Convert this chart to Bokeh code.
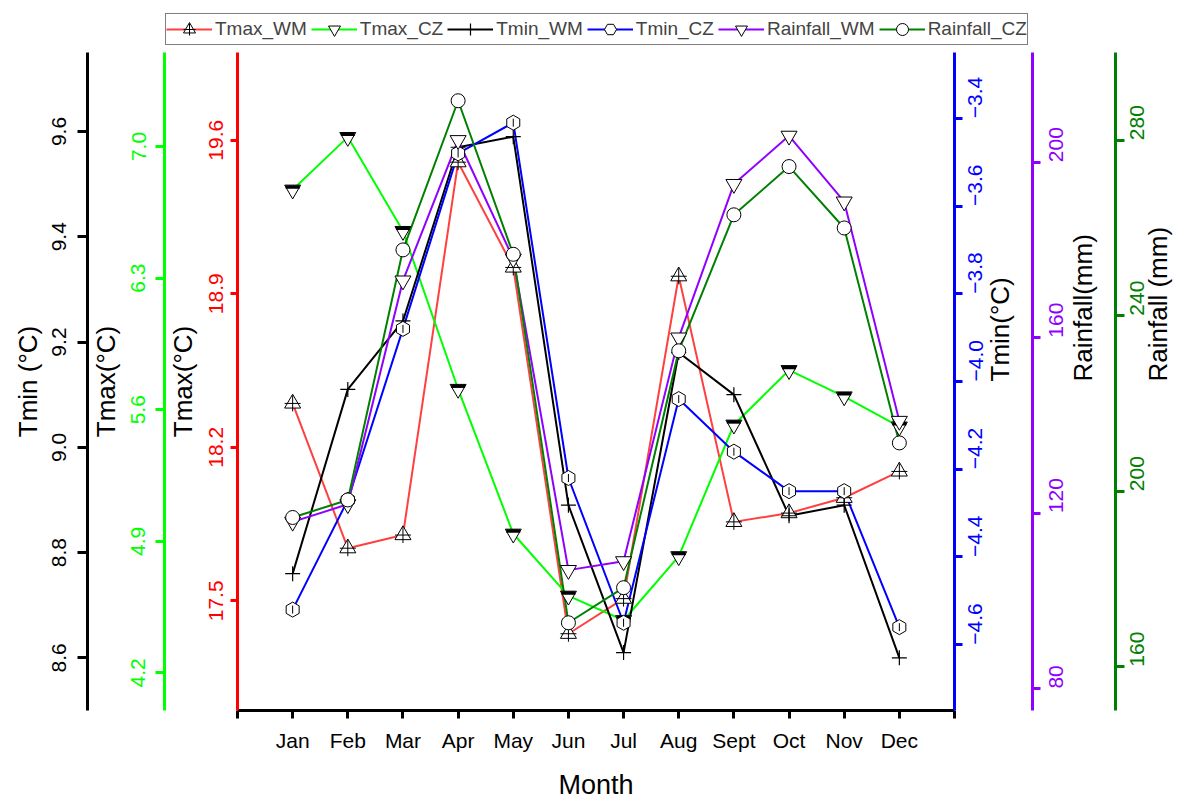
import math

from bokeh.embed import file_html
from bokeh.layouts import column
from bokeh.models import FixedTicker, Legend, LegendItem, LinearAxis, Range1d
from bokeh.plotting import figure
from bokeh.resources import INLINE

# Monthly climate series: two stations (WM, CZ)
months = ["Jan", "Feb", "Mar", "Apr", "May", "Jun", "Jul", "Aug", "Sept", "Oct", "Nov", "Dec"]
month_pos = list(range(1, 13))

tmax_wm = [18.40, 17.74, 17.80, 19.50, 19.02, 17.35, 17.51, 18.98, 17.86, 17.90, 17.97, 18.09]
tmax_cz = [6.77, 7.05, 6.55, 5.71, 4.94, 4.61, 4.48, 4.82, 5.52, 5.81, 5.67, 5.51]
tmin_wm = [8.76, 9.11, 9.24, 9.57, 9.59, 8.89, 8.61, 9.18, 9.10, 8.87, 8.89, 8.60]
tmin_cz = [-4.52, -4.27, -3.88, -3.48, -3.41, -4.22, -4.55, -4.04, -4.16, -4.25, -4.25, -4.56]
rain_wm = [118, 122, 173, 205, 178, 107, 109, 160, 195, 206, 191, 141]
rain_cz = [194, 198, 255, 289, 254, 170, 178, 232, 263, 274, 260, 211]

series_names = ["Tmax_WM", "Tmax_CZ", "Tmin_WM", "Tmin_CZ", "Rainfall_WM", "Rainfall_CZ"]

tmax_wm_ticks = [17.5, 18.2, 18.9, 19.6]
tmax_cz_ticks = [4.2, 4.9, 5.6, 6.3, 7.0]
tmin_wm_ticks = [8.6, 8.8, 9.0, 9.2, 9.4, 9.6]
tmin_cz_ticks = [-4.6, -4.4, -4.2, -4.0, -3.8, -3.6, -3.4]
rain_wm_ticks = [80, 120, 160, 200]
rain_cz_ticks = [160, 200, 240, 280]

FONT = "Liberation Sans"
RED = "#FF0000"
RED_LINE = "#FF4040"
LIME = "#00FF00"
BLUE = "#0000FF"
PURPLE = "#8F00FF"
DKGREEN = "#008000"
LW = 2
MK = dict(fill_color="white", line_color="black", line_width=1)

# texts read bottom-to-top on both sides of the plot
UPWARD = math.pi / 2

p = figure(
    width=1190, height=750,
    x_range=Range1d(0, 13), y_range=Range1d(17.0, 20.0),
    output_backend="svg", toolbar_location=None,
    min_border_left=237, min_border_right=232,
    min_border_top=0, min_border_bottom=87,
)
p.frame_align = False
p.outline_line_color = None
p.xgrid.visible = False
p.ygrid.visible = False
p.background_fill_color = "white"
p.border_fill_color = "white"

# the filled cap of the half-filled triangles sits a few pixels above the marker centre
cap_shift = 0.015
p.extra_y_ranges = {
    "tmax_cz": Range1d(4.0, 7.5),
    "tmax_cz_cap": Range1d(4.0 - cap_shift, 7.5 - cap_shift),
    "tmin_wm": Range1d(8.5, 9.75),
    "tmin_cz": Range1d(-4.75, -3.25),
    "rain_wm": Range1d(75, 225),
    "rain_cz": Range1d(150, 300),
}


def fmt(v):
    if float(v).is_integer() and abs(v) >= 10:
        return str(int(v))
    return f"{v:.1f}".replace("-", "\u2212")


def style_y_axis(ax, color, label_color, ticks, title, tick_out, label_standoff, title_standoff,
                 label_orientation, title_orientation):
    ax.ticker = FixedTicker(ticks=ticks, minor_ticks=[])
    ax.major_label_overrides = {t: fmt(t) for t in ticks}
    ax.axis_line_color = color
    ax.axis_line_width = 3
    ax.major_tick_line_color = color
    ax.major_tick_line_width = 3
    ax.major_tick_in = 0
    ax.major_tick_out = tick_out
    ax.minor_tick_line_color = None
    ax.major_label_text_color = label_color
    ax.major_label_text_font = FONT
    ax.major_label_text_font_size = "21px"
    ax.major_label_orientation = label_orientation
    ax.major_label_standoff = label_standoff
    ax.axis_label = title
    ax.axis_label_text_font = FONT
    ax.axis_label_text_font_size = "26px"
    ax.axis_label_text_font_style = "normal"
    ax.axis_label_text_color = "black"
    ax.axis_label_standoff = title_standoff
    ax.axis_label_orientation = title_orientation


def spacer(range_name, width, side):
    ax = LinearAxis(y_range_name=range_name, ticker=FixedTicker(ticks=[], minor_ticks=[]))
    ax.axis_line_color = None
    ax.major_tick_line_color = None
    ax.minor_tick_line_color = None
    ax.major_tick_in = 0
    ax.major_tick_out = width
    ax.major_label_standoff = 0
    p.add_layout(ax, side)


# left side: Tmax WM (red), Tmax CZ (lime), Tmin WM (black)
style_y_axis(p.yaxis[0], RED, RED, tmax_wm_ticks, "Tmax(\u00b0C)", 7, 7, 9, "vertical", "parallel")
spacer("tmax_cz", 5, "left")
ax_tmax_cz = LinearAxis(y_range_name="tmax_cz")
style_y_axis(ax_tmax_cz, LIME, LIME, tmax_cz_ticks, "Tmax(\u00b0C)", 9, 10, 8, "vertical", "parallel")
p.add_layout(ax_tmax_cz, "left")
spacer("tmin_wm", 12, "left")
ax_tmin_wm = LinearAxis(y_range_name="tmin_wm")
style_y_axis(ax_tmin_wm, "black", "black", tmin_wm_ticks, "Tmin (\u00b0C)", 10, 11, 7, "vertical", "parallel")
p.add_layout(ax_tmin_wm, "left")

# right side: Tmin CZ (blue), Rainfall WM (purple), Rainfall CZ (dark green)
ax_tmin_cz = LinearAxis(y_range_name="tmin_cz")
style_y_axis(ax_tmin_cz, BLUE, BLUE, tmin_cz_ticks, "Tmin(\u00b0C)", 8, 13, 7, UPWARD, UPWARD)
p.add_layout(ax_tmin_cz, "right")
ax_rain_wm = LinearAxis(y_range_name="rain_wm")
style_y_axis(ax_rain_wm, PURPLE, PURPLE, rain_wm_ticks, "Rainfall(mm)", 8, 16, 9, UPWARD, UPWARD)
p.add_layout(ax_rain_wm, "right")
spacer("rain_wm", 2, "right")
ax_rain_cz = LinearAxis(y_range_name="rain_cz")
style_y_axis(ax_rain_cz, DKGREEN, DKGREEN, rain_cz_ticks, "Rainfall (mm)", 9, 13, 3, UPWARD, UPWARD)
p.add_layout(ax_rain_cz, "right")

# month axis
xa = p.xaxis[0]
xa.ticker = FixedTicker(ticks=month_pos, minor_ticks=[0, 13])
xa.major_label_overrides = {i: m for i, m in zip(month_pos, months)}
xa.axis_line_color = "black"
xa.axis_line_width = 3
xa.major_tick_line_color = "black"
xa.major_tick_line_width = 3
xa.major_tick_in = 0
xa.major_tick_out = 8
xa.minor_tick_line_color = "black"
xa.minor_tick_line_width = 3
xa.minor_tick_in = 0
xa.minor_tick_out = 8
xa.major_label_text_font = FONT
xa.major_label_text_font_size = "21px"
xa.major_label_text_color = "black"
xa.major_label_standoff = 10
xa.axis_label = "Month"
xa.axis_label_text_font = FONT
xa.axis_label_text_font_size = "27px"
xa.axis_label_text_font_style = "normal"
xa.axis_label_text_color = "black"
xa.axis_label_standoff = 15

# connecting lines
p.line(month_pos, tmax_wm, line_color=RED_LINE, line_width=LW)
p.line(month_pos, tmax_cz, line_color=LIME, line_width=LW, y_range_name="tmax_cz")
p.line(month_pos, tmin_wm, line_color="black", line_width=LW, y_range_name="tmin_wm")
p.line(month_pos, tmin_cz, line_color=BLUE, line_width=LW, y_range_name="tmin_cz")
p.line(month_pos, rain_wm, line_color=PURPLE, line_width=LW, y_range_name="rain_wm")
p.line(month_pos, rain_cz, line_color=DKGREEN, line_width=LW, y_range_name="rain_cz")

# markers
p.scatter(month_pos, tmax_wm, marker="triangle", size=16, **MK)
p.scatter(month_pos, tmax_wm, marker="cross", size=16, line_color="black", line_width=1)
p.scatter(month_pos, tmax_cz, marker="inverted_triangle", size=16, y_range_name="tmax_cz", **MK)
p.scatter(month_pos, tmax_cz, marker="dash", size=14, line_color="black", line_width=3.5,
          y_range_name="tmax_cz_cap")
p.scatter(month_pos, tmin_wm, marker="cross", size=15, line_color="black", line_width=1.2,
          y_range_name="tmin_wm")
p.scatter(month_pos, tmin_cz, marker="hex", angle=math.pi / 2, size=15, y_range_name="tmin_cz", **MK)
p.scatter(month_pos, tmin_cz, marker="dash", angle=math.pi / 2, size=8, line_color="black",
          line_width=1, y_range_name="tmin_cz")
p.scatter(month_pos, rain_wm, marker="inverted_triangle", size=16, y_range_name="rain_wm", **MK)
p.scatter(month_pos, rain_cz, marker="circle", size=14, y_range_name="rain_cz", **MK)

# legend strip above the plot; its key glyphs carry the same series, outside the strip's view
lf = figure(
    width=1190, height=52, x_range=Range1d(0, 13), y_range=Range1d(-1001, -1000),
    output_backend="svg", toolbar_location=None,
    x_axis_location=None, y_axis_location=None, min_border=0,
)
lf.frame_align = False
lf.outline_line_color = None
lf.grid.visible = False
lf.background_fill_color = "white"
lf.border_fill_color = "white"

key = [
    [lf.line(month_pos, tmax_wm, line_color=RED_LINE, line_width=LW),
     lf.scatter(month_pos, tmax_wm, marker="triangle", **MK),
     lf.scatter(month_pos, tmax_wm, marker="cross", line_color="black", line_width=1)],
    [lf.line(month_pos, tmax_cz, line_color=LIME, line_width=LW),
     lf.scatter(month_pos, tmax_cz, marker="inverted_triangle", **MK)],
    [lf.line(month_pos, tmin_wm, line_color="black", line_width=LW),
     lf.scatter(month_pos, tmin_wm, marker="cross", line_color="black", line_width=1.2)],
    [lf.line(month_pos, tmin_cz, line_color=BLUE, line_width=LW),
     lf.scatter(month_pos, tmin_cz, marker="hex", angle=math.pi / 2, **MK)],
    [lf.line(month_pos, rain_wm, line_color=PURPLE, line_width=LW),
     lf.scatter(month_pos, rain_wm, marker="inverted_triangle", **MK)],
    [lf.line(month_pos, rain_cz, line_color=DKGREEN, line_width=LW),
     lf.scatter(month_pos, rain_cz, marker="circle", **MK)],
]

legend = Legend(
    items=[LegendItem(label=name, renderers=rs) for name, rs in zip(series_names, key)],
    orientation="horizontal",
    location=(165, 7),
    border_line_color="black",
    border_line_width=1,
    background_fill_color="white",
    background_fill_alpha=1,
    label_text_font=FONT,
    label_text_font_size="19px",
    glyph_width=46,
    glyph_height=30,
    label_standoff=3,
    spacing=4,
    padding=0,
    margin=0,
)
lf.add_layout(legend)

layout = column(lf, p, spacing=0)
open("out.html", "w").write(file_html(layout, INLINE))
